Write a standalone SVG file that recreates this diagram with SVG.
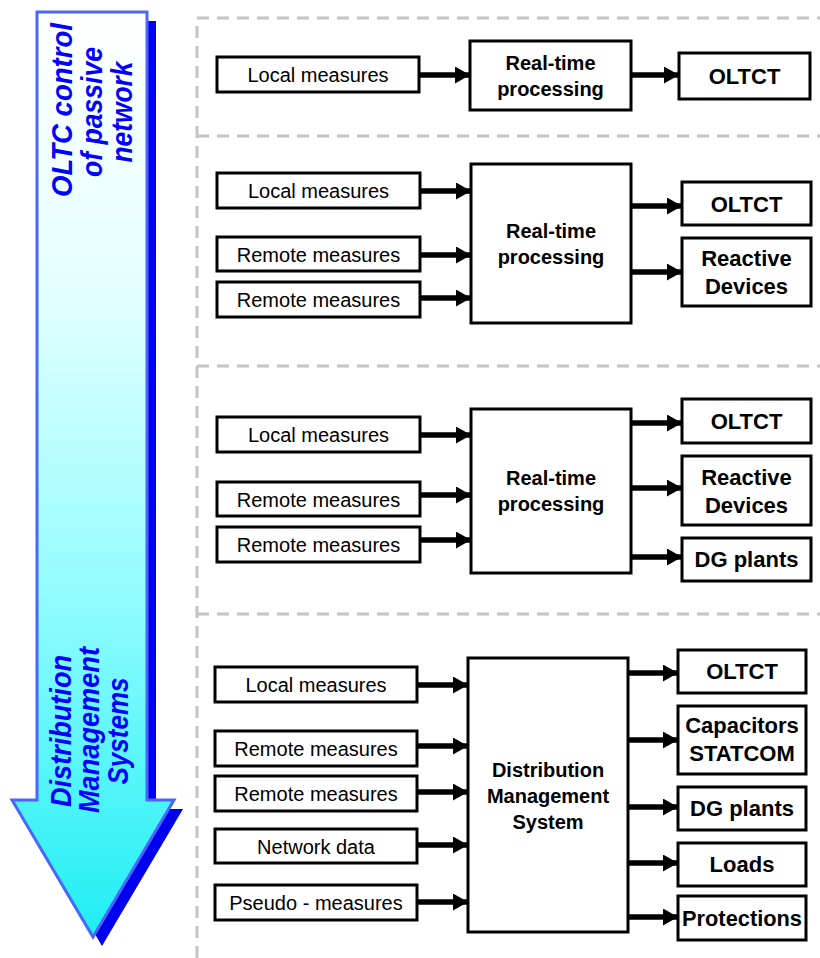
<svg xmlns="http://www.w3.org/2000/svg" width="820" height="958" viewBox="0 0 820 958">
<defs>
<linearGradient id="g" x1="0" y1="12" x2="0" y2="937" gradientUnits="userSpaceOnUse">
<stop offset="0" stop-color="#ffffff"/>
<stop offset="0.3" stop-color="#e4ffff"/>
<stop offset="0.64" stop-color="#8ffcff"/>
<stop offset="1" stop-color="#1eeef2"/>
</linearGradient>
<marker id="ah" viewBox="0 0 15 17" refX="15" refY="8.5" markerWidth="15" markerHeight="17" markerUnits="userSpaceOnUse" orient="auto">
<path d="M0,0 L15,8.5 L0,17 Z" fill="#000"/>
</marker>
<style>
.dash{stroke:#c4c4c4;stroke-width:3;fill:none;stroke-dasharray:12 8}
.box{fill:#fff;stroke:#000;stroke-width:3}
.in{font-family:"Liberation Sans",Arial,sans-serif;font-size:20px;text-anchor:middle;fill:#000}
.mid{font-family:"Liberation Sans",Arial,sans-serif;font-size:20px;font-weight:bold;text-anchor:middle;fill:#000}
.out{font-family:"Liberation Sans",Arial,sans-serif;font-size:22px;font-weight:bold;text-anchor:middle;fill:#000}
.side{font-family:"Liberation Sans",Arial,sans-serif;font-size:30px;font-weight:bold;font-style:italic;text-anchor:middle;fill:#0000ff}
.con line{stroke:#000;stroke-width:5.5;marker-end:url(#ah)}
</style>
</defs>
<rect width="820" height="958" fill="#fff"/>

<g id="bigarrow">
<polygon points="46,21 156,21 156,809 183,809 102,946 21,809 46,809" fill="#0000ee"/>
<polygon points="37,12 147,12 147,800 174,800 93,937 12,800 37,800" fill="url(#g)" stroke="#4a66ff" stroke-width="3"/>
<g transform="translate(72,110) rotate(-90)"><text class="side" textLength="174" lengthAdjust="spacingAndGlyphs">OLTC control</text></g>
<g transform="translate(102,112) rotate(-90)"><text class="side" textLength="130" lengthAdjust="spacingAndGlyphs">of passive</text></g>
<g transform="translate(132,112) rotate(-90)"><text class="side" textLength="101" lengthAdjust="spacingAndGlyphs">network</text></g>
<g transform="translate(71,731) rotate(-90)"><text class="side" textLength="152" lengthAdjust="spacingAndGlyphs">Distribution</text></g>
<g transform="translate(99,730) rotate(-90)"><text class="side" textLength="166" lengthAdjust="spacingAndGlyphs">Management</text></g>
<g transform="translate(128,731) rotate(-90)"><text class="side" textLength="107" lengthAdjust="spacingAndGlyphs">Systems</text></g>
</g>

<g id="sections">
<path class="dash" d="M197,958 V18 H820"/>
<path class="dash" d="M197,136 H820"/>
<path class="dash" d="M197,366 H820"/>
<path class="dash" d="M197,614 H820"/>
</g>

<!-- Section 1 -->
<g id="s1-local"><rect class="box" x="217" y="57" width="202" height="35"/><text class="in" x="318" y="82">Local measures</text></g>
<g id="s1-rt"><rect class="box" x="470" y="41" width="161" height="69"/><text class="mid" x="550.5" y="69.5">Real-time</text><text class="mid" x="550.5" y="95.5">processing</text></g>
<g id="s1-oltct"><rect class="box" x="679" y="53" width="131" height="46"/><text class="out" x="744.5" y="84">OLTCT</text></g>

<!-- Section 2 -->
<g id="s2-local"><rect class="box" x="217" y="173" width="203" height="35"/><text class="in" x="318.5" y="198">Local measures</text></g>
<g id="s2-remote1"><rect class="box" x="217" y="237" width="203" height="34"/><text class="in" x="318.5" y="261.5">Remote measures</text></g>
<g id="s2-remote2"><rect class="box" x="217" y="282" width="203" height="35"/><text class="in" x="318.5" y="307">Remote measures</text></g>
<g id="s2-rt"><rect class="box" x="471" y="164" width="160" height="159"/><text class="mid" x="551" y="237.5">Real-time</text><text class="mid" x="551" y="263.5">processing</text></g>
<g id="s2-oltct"><rect class="box" x="682" y="182" width="129" height="43"/><text class="out" x="746.5" y="211.5">OLTCT</text></g>
<g id="s2-reactive"><rect class="box" x="682" y="238" width="129" height="68"/><text class="out" x="746.5" y="266">Reactive</text><text class="out" x="746.5" y="294">Devices</text></g>

<!-- Section 3 -->
<g id="s3-local"><rect class="box" x="217" y="417" width="203" height="35"/><text class="in" x="318.5" y="442">Local measures</text></g>
<g id="s3-remote1"><rect class="box" x="217" y="482" width="203" height="34"/><text class="in" x="318.5" y="506.5">Remote measures</text></g>
<g id="s3-remote2"><rect class="box" x="217" y="527" width="203" height="35"/><text class="in" x="318.5" y="552">Remote measures</text></g>
<g id="s3-rt"><rect class="box" x="471" y="409" width="160" height="164"/><text class="mid" x="551" y="485">Real-time</text><text class="mid" x="551" y="511">processing</text></g>
<g id="s3-oltct"><rect class="box" x="682" y="399" width="129" height="44"/><text class="out" x="746.5" y="429">OLTCT</text></g>
<g id="s3-reactive"><rect class="box" x="682" y="456" width="129" height="69"/><text class="out" x="746.5" y="484.5">Reactive</text><text class="out" x="746.5" y="512.5">Devices</text></g>
<g id="s3-dg"><rect class="box" x="682" y="538" width="129" height="43"/><text class="out" x="746.5" y="567">DG plants</text></g>

<!-- Section 4 -->
<g id="s4-local"><rect class="box" x="215" y="667" width="202" height="35"/><text class="in" x="316" y="692">Local measures</text></g>
<g id="s4-remote1"><rect class="box" x="215" y="731" width="202" height="35"/><text class="in" x="316" y="756">Remote measures</text></g>
<g id="s4-remote2"><rect class="box" x="215" y="776" width="202" height="35"/><text class="in" x="316" y="801">Remote measures</text></g>
<g id="s4-network"><rect class="box" x="215" y="829" width="202" height="34"/><text class="in" x="316" y="853.5">Network data</text></g>
<g id="s4-pseudo"><rect class="box" x="215" y="885" width="202" height="35"/><text class="in" x="316" y="910">Pseudo - measures</text></g>
<g id="s4-dms"><rect class="box" x="468" y="658" width="160" height="274"/><text class="mid" x="548" y="777">Distribution</text><text class="mid" x="548" y="803">Management</text><text class="mid" x="548" y="829">System</text></g>
<g id="s4-oltct"><rect class="box" x="678" y="650" width="128" height="43"/><text class="out" x="742" y="679">OLTCT</text></g>
<g id="s4-cap"><rect class="box" x="678" y="706" width="128" height="68"/><text class="out" x="742" y="733">Capacitors</text><text class="out" x="742" y="761">STATCOM</text></g>
<g id="s4-dg"><rect class="box" x="678" y="787" width="128" height="43"/><text class="out" x="742" y="816">DG plants</text></g>
<g id="s4-loads"><rect class="box" x="678" y="843" width="128" height="43"/><text class="out" x="742" y="872">Loads</text></g>
<g id="s4-prot"><rect class="box" x="678" y="896" width="128" height="44"/><text class="out" x="742" y="926" textLength="120" lengthAdjust="spacingAndGlyphs">Protections</text></g>

<g id="connectors" class="con">
<line x1="420" y1="75" x2="470" y2="75"/>
<line x1="632" y1="75" x2="679" y2="75"/>

<line x1="421" y1="191" x2="471" y2="191"/>
<line x1="421" y1="255" x2="471" y2="255"/>
<line x1="421" y1="298" x2="471" y2="298"/>
<line x1="632" y1="206" x2="682" y2="206"/>
<line x1="632" y1="272" x2="682" y2="272"/>

<line x1="421" y1="435" x2="471" y2="435"/>
<line x1="421" y1="495" x2="471" y2="495"/>
<line x1="421" y1="540" x2="471" y2="540"/>
<line x1="632" y1="423" x2="682" y2="423"/>
<line x1="632" y1="488" x2="682" y2="488"/>
<line x1="632" y1="557" x2="682" y2="557"/>

<line x1="418" y1="685" x2="468" y2="685"/>
<line x1="418" y1="746" x2="468" y2="746"/>
<line x1="418" y1="792" x2="468" y2="792"/>
<line x1="418" y1="845" x2="468" y2="845"/>
<line x1="418" y1="902" x2="468" y2="902"/>
<line x1="629" y1="673" x2="678" y2="673"/>
<line x1="629" y1="740" x2="678" y2="740"/>
<line x1="629" y1="807" x2="678" y2="807"/>
<line x1="629" y1="863" x2="678" y2="863"/>
<line x1="629" y1="917" x2="678" y2="917"/>
</g>
</svg>
